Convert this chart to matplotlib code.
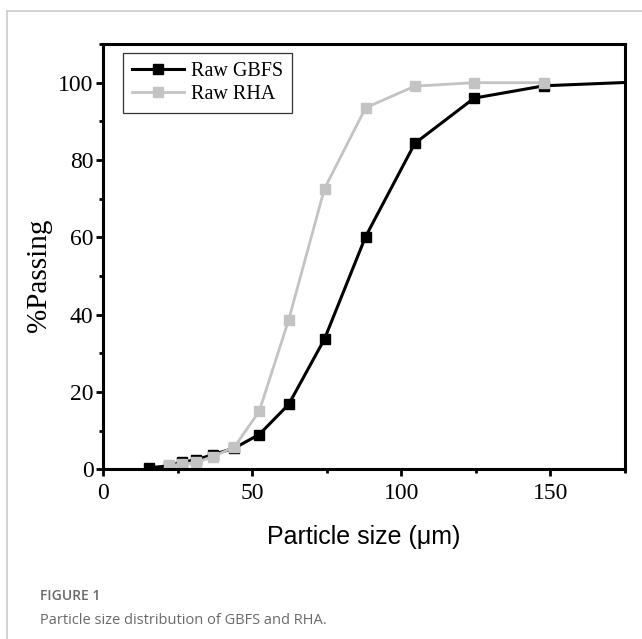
import matplotlib
matplotlib.use("Agg")
import matplotlib.pyplot as plt
from matplotlib.patches import Rectangle
from matplotlib.ticker import MultipleLocator

# particle size (um) and cumulative % passing
gbfs_size = [15.4, 22.1, 26.3, 31.1, 36.9, 44.0, 52.3, 62.2, 74.2, 88.0, 104.5, 124.4, 147.9, 180.0]
gbfs_pass = [0.4, 0.9, 1.8, 2.5, 3.8, 5.5, 9.0, 16.8, 33.7, 60.2, 84.3, 96.0, 99.2, 100.2]

rha_size = [22.1, 26.3, 31.1, 36.9, 44.0, 52.3, 62.2, 74.2, 88.0, 104.5, 124.4, 147.9]
rha_pass = [1.0, 1.3, 1.8, 3.3, 5.8, 15.0, 38.7, 72.6, 93.5, 99.1, 100.0, 100.0]

serif = ['Liberation Serif', 'DejaVu Serif']

fig = plt.figure(figsize=(6.42, 6.39), dpi=100)
fig.patches.append(Rectangle((7/642, -0.1), 1.1, 1 - 11/639 + 0.1, transform=fig.transFigure,
                             fill=False, ec='#c8c8c8', lw=1.2))

ax = fig.add_axes([103.3/642, 1 - 469.3/639, (625 - 103.3)/642, (469.3 - 44)/639])
ax.plot(gbfs_size, gbfs_pass, color='black', lw=2.2, marker='s', ms=6.5, label='Raw GBFS')
ax.plot(rha_size, rha_pass, color='#c3c3c3', lw=2.0, marker='s', ms=6.5, label='Raw RHA')

ax.set_xlim(0, 175)
ax.set_ylim(0, 110)
ax.xaxis.set_major_locator(MultipleLocator(50))
ax.xaxis.set_minor_locator(MultipleLocator(25))
ax.yaxis.set_major_locator(MultipleLocator(20))
ax.yaxis.set_minor_locator(MultipleLocator(10))
ax.tick_params(which='major', direction='out', length=5, width=2, pad=2)
ax.tick_params(which='minor', direction='out', length=3, width=2)
ax.tick_params(axis='x', pad=5)
for lab in ax.get_xticklabels() + ax.get_yticklabels():
    lab.set_fontfamily(serif)
    lab.set_fontsize(17)
for s in ax.spines.values():
    s.set_linewidth(2.2)

ax.set_ylabel('%Passing', fontsize=21, family=serif)
ax.yaxis.set_label_coords(-0.098, 0.457)
ax.set_xlabel('Particle size (\u03bcm)', fontsize=18, family=['Liberation Sans', 'DejaVu Sans'])
ax.xaxis.set_label_coords(0.5, -0.13)

leg = ax.legend(loc='upper left', prop={'family': serif, 'size': 14.5}, frameon=True, fancybox=False,
                edgecolor='black', handlelength=2.6, borderpad=0.45, labelspacing=0.15,
                handletextpad=0.35, borderaxespad=0.0, bbox_to_anchor=(19.4/521.7, 1 - 9.3/425.3))
leg.get_frame().set_linewidth(0.9)

fig.text(40/642, 1 - 596/639, 'FIGURE 1', fontsize=10, color='#6a6a6a', family=['Open Sans', 'DejaVu Sans'],
         weight='semibold', va='center')
fig.text(40/642, 1 - 620/639, 'Particle size distribution of GBFS and RHA.', fontsize=10.5, color='#6a6a6a',
         family=['Open Sans', 'DejaVu Sans'], va='center')

fig.savefig('out.png', dpi=100)
